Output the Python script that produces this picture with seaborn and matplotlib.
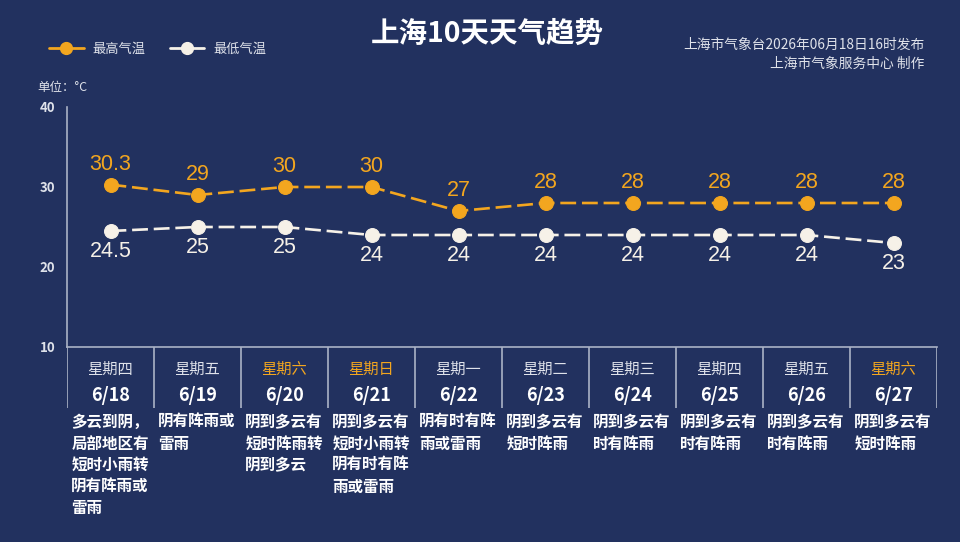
import textwrap
import matplotlib
matplotlib.use("Agg")
import matplotlib.pyplot as plt
from matplotlib.lines import Line2D
import seaborn as sns
import pandas as pd

##################
#Data#############
##################

days = ['星期四', '星期五', '星期六', '星期日', '星期一', '星期二', '星期三', '星期四', '星期五', '星期六']
dates = ['6/18', '6/19', '6/20', '6/21', '6/22', '6/23', '6/24', '6/25', '6/26', '6/27']
high = [30.3, 29, 30, 30, 27, 28, 28, 28, 28, 28]
low = [24.5, 25, 25, 24, 24, 24, 24, 24, 24, 23]
weather = ['多云到阴，局部地区有短时小雨转阴有阵雨或雷雨', '阴有阵雨或雷雨', '阴到多云有短时阵雨转阴到多云',
           '阴到多云有短时小雨转阴有时有阵雨或雷雨', '阴有时有阵雨或雷雨', '阴到多云有短时阵雨',
           '阴到多云有时有阵雨', '阴到多云有时有阵雨', '阴到多云有时有阵雨', '阴到多云有短时阵雨']
weekend = ['星期六', '星期日']

##################
#Style############
##################

bg = '#22315f'
orange = '#f3a61f'
cream = '#f6f1e8'
light = '#dfe2ea'
spine = '#aab2c6'

sns.set_style("white")
plt.rcParams['font.family'] = ['Noto Sans CJK SC', 'DejaVu Sans']
plt.rcParams['axes.unicode_minus'] = False

df = pd.DataFrame({'x': range(len(days)), 'high': high, 'low': low})

fig = plt.figure(figsize=(9.6, 5.42), dpi=100, facecolor=bg)

left, right = 67 / 960, 937 / 960
ax = fig.add_axes([left, 1 - 347 / 542, right - left, 240 / 542])
ax.set_facecolor(bg)

sns.lineplot(data=df, x='x', y='high', ax=ax, color=orange, lw=1.9, linestyle=(0, (6, 2.2)),
             marker='o', markersize=10, markeredgecolor=orange, markerfacecolor=orange)
sns.lineplot(data=df, x='x', y='low', ax=ax, color=cream, lw=1.9, linestyle=(0, (6, 2.2)),
             marker='o', markersize=10, markeredgecolor=cream, markerfacecolor=cream)

for i, v in enumerate(high):
    ax.annotate(f'{v:g}', (i, v), xytext=(0, 14.5), textcoords='offset points',
                ha='center', va='center', color=orange, fontsize=15.5, family='Liberation Sans')
for i, v in enumerate(low):
    ax.annotate(f'{v:g}', (i, v), xytext=(0, -14.5), textcoords='offset points',
                ha='center', va='center', color=cream, fontsize=15.5, family='Liberation Sans')

ax.set_xlim(-0.5, len(days) - 0.5)
ax.set_ylim(10, 40)
ax.set_yticks([10, 20, 30, 40])
ax.set_xticks([])
ax.set_xlabel('')
ax.set_ylabel('')
ax.tick_params(axis='y', colors=spine, length=5, width=1.1, labelcolor=light, labelsize=9.5)
for lab in ax.get_yticklabels():
    lab.set_fontweight('bold')
for s in ['top', 'right']:
    ax.spines[s].set_visible(False)
for s in ['left', 'bottom']:
    ax.spines[s].set_color(spine)
    ax.spines[s].set_linewidth(1.2)

##################
#Table############
##################

ax2 = fig.add_axes([left, 1 - 408 / 542, right - left, 61 / 542])
ax2.set_facecolor(bg)
ax2.set_xlim(-0.5, len(days) - 0.5)
ax2.set_ylim(0, 1)
ax2.axis('off')
ax2.vlines([i - 0.5 for i in range(len(days) + 1)], 0, 1, color=spine, lw=1.2)

for i in range(len(days)):
    c = orange if days[i] in weekend else light
    ax2.text(i, 0.64, days[i], ha='center', va='center', color=c, fontsize=11)
    ax2.text(i, 0.21, dates[i], ha='center', va='center', color='white', fontsize=13, fontweight='bold')
    ax2.text(i - 0.45, -0.1, '\n'.join(textwrap.wrap(weather[i], 5)), ha='left', va='top',
             color='white', fontsize=11.2, fontweight='bold', linespacing=1.42)

##################
#Titles###########
##################

fig.text(0.508, 0.938, '上海10天天气趋势', ha='center', va='center', color='white',
         fontsize=20.5, fontweight='bold')
fig.text(0.9625, 0.917, '上海市气象台2026年06月18日16时发布', ha='right', va='center',
         color=light, fontsize=9.9)
fig.text(0.9625, 0.882, '上海市气象服务中心 制作', ha='right', va='center', color=light, fontsize=9.9)
fig.text(37 / 960, 1 - 88 / 542, '单位：°C', ha='left', va='center', color=light, fontsize=9)

handles = [Line2D([], [], color=orange, lw=2, marker='o', markersize=8.5, mec=orange, mfc=orange),
           Line2D([], [], color=cream, lw=2, marker='o', markersize=8.5, mec=cream, mfc=cream)]
fig.legend(handles, ['最高气温', '最低气温'], loc='center left', bbox_to_anchor=(0.039, 1 - 49 / 542),
           ncol=2, frameon=False, fontsize=9.5, labelcolor=light, handlelength=2.6,
           handletextpad=0.7, columnspacing=1.8)

fig.savefig('out.png', dpi=100, facecolor=bg)
